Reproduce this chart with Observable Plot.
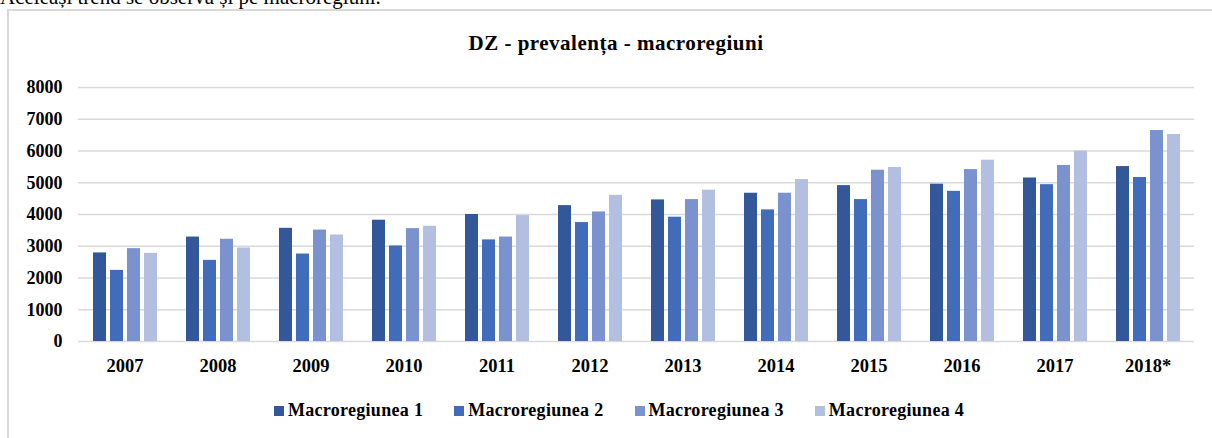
<!DOCTYPE html>
<html><head><meta charset="utf-8">
<script src="https://cdn.jsdelivr.net/npm/d3@7"></script>
<script src="https://cdn.jsdelivr.net/npm/@observablehq/plot@0.6"></script>
<style>
html,body{margin:0;padding:0;background:#fff;width:1212px;height:438px;overflow:hidden;position:relative;font-family:"Liberation Serif","Times New Roman",serif;color:#000}
#intro{position:absolute;left:0;top:-13px;font-size:21px;line-height:21px;white-space:nowrap}
#box{position:absolute;left:7px;top:9px;width:1300px;height:500px;border-left:2px solid #d9d9d9;border-top:2px solid #d9d9d9;box-sizing:border-box}
#title{position:absolute;left:8px;width:1216px;top:33px;text-align:center;font-weight:bold;font-size:21px;line-height:21px;letter-spacing:0.5px;white-space:nowrap}
#chart{position:absolute;left:0;top:60px}
#legend{position:absolute;left:0;width:1238px;top:401px;text-align:center;font-weight:bold;font-size:18px;line-height:18px;letter-spacing:0.3px;white-space:nowrap}
.item{display:inline-block;margin:0 15.5px}
.sw{display:inline-block;width:10px;height:10px;margin-right:4px}
</style>
</head><body>
<div id="intro">Aceleași trend se observă și pe macroregiuni.</div>
<div id="box"></div>
<div id="title">DZ - prevalența - macroregiuni</div>
<div id="chart"></div>
<div id="legend"></div>
<script>
const years = ["2007","2008","2009","2010","2011","2012","2013","2014","2015","2016","2017","2018*"];
const seriesNames = ["Macroregiunea 1","Macroregiunea 2","Macroregiunea 3","Macroregiunea 4"];
const m1 = [2790, 3290, 3565, 3820, 4000, 4280, 4460, 4670, 4910, 4955, 5150, 5510];
const m2 = [2240, 2555, 2755, 3010, 3200, 3745, 3915, 4145, 4470, 4730, 4940, 5165];
const m3 = [2925, 3220, 3510, 3555, 3290, 4080, 4470, 4670, 5395, 5415, 5545, 6645];
const m4 = [2775, 2945, 3355, 3630, 3965, 4605, 4765, 5100, 5480, 5710, 5995, 6520];
const colors = ["#335899","#416cb9","#7a93cf","#b3bfe0"];
const yTicks = [0,1000,2000,3000,4000,5000,6000,7000,8000];

const seriesValues = [m1, m2, m3, m4];
const data = years.flatMap((yr, i) => seriesNames.map((s, k) => ({year: yr, series: s, value: seriesValues[k][i]})));

const step = 93, barW = 13, first = 15, pitch = 17;
const barMarks = seriesNames.map((s, k) => Plot.barY(data, {
  filter: d => d.series === s,
  x: "year", y: "value", fill: "series",
  insetLeft: first + pitch * k,
  insetRight: step - (first + pitch * k) - barW
}));

const chart = Plot.plot({
  width: 1212,
  height: 330,
  marginLeft: 78,
  marginRight: 18,
  marginTop: 27,
  marginBottom: 49,
  style: {background: "transparent", fontFamily: "'Liberation Serif','Times New Roman',serif", fontSize: "18px", fontWeight: "bold", color: "#000"},
  x: {type: "band", domain: years, padding: 0, label: null},
  y: {domain: [0, 8000], label: null},
  color: {domain: seriesNames, range: colors},
  marks: [
    Plot.gridY(yTicks, {stroke: "#d9d9d9", strokeOpacity: 1, strokeWidth: 1.5}),
    ...barMarks,
    Plot.axisY(yTicks, {tickSize: 0, tickPadding: 16, label: null, tickFormat: d => String(d)}),
    Plot.axisX({tickSize: 0, tickPadding: 17, label: null, fontSize: 18.5})
  ]
});
document.getElementById("chart").appendChild(chart);

const legend = document.getElementById("legend");
seriesNames.forEach((s, k) => {
  const item = document.createElement("span");
  item.className = "item";
  const sw = document.createElement("span");
  sw.className = "sw";
  sw.style.background = colors[k];
  item.appendChild(sw);
  item.appendChild(document.createTextNode(s));
  legend.appendChild(item);
});
</script>
</body></html>
